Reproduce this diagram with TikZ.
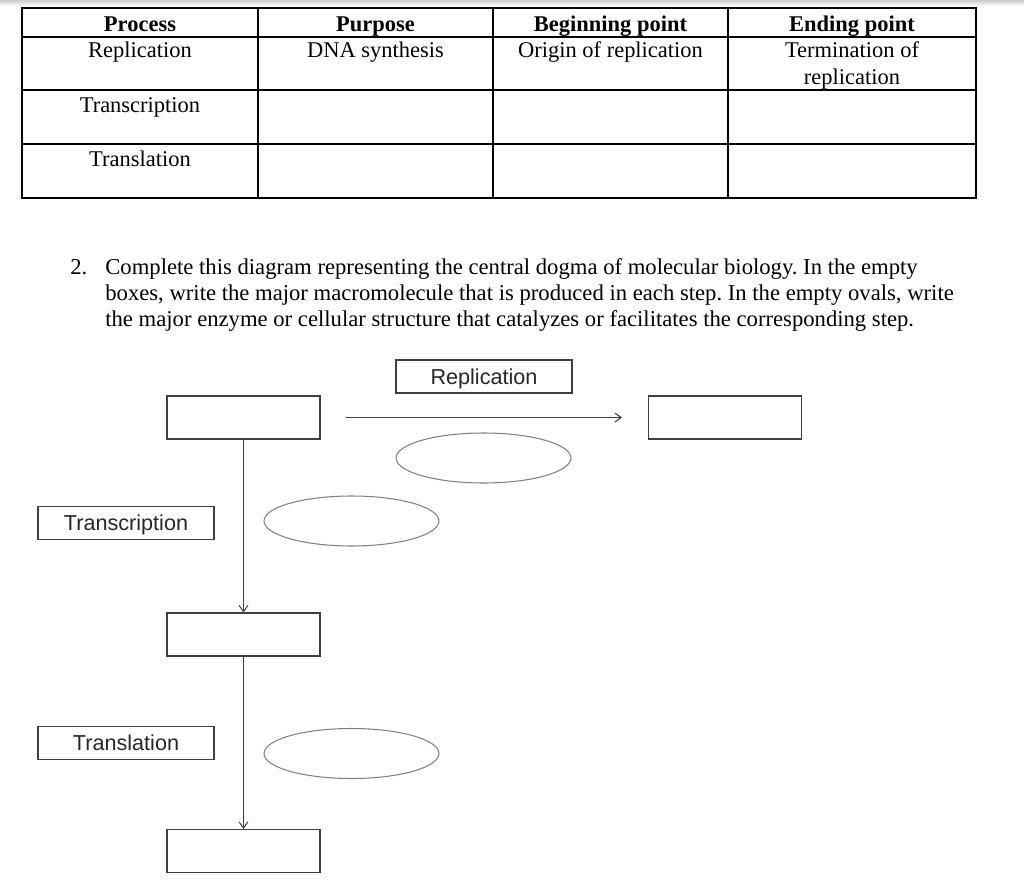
\documentclass[tikz,border=0pt]{standalone}
\usepackage{fontspec}
\setmainfont{Liberation Serif}
\setsansfont{Liberation Sans}
\usetikzlibrary{shapes.geometric,arrows.meta}
\frenchspacing

\begin{document}
\begin{tikzpicture}[x=0.02cm,y=-0.02cm]

\tikzset{
  cell/.style={anchor=base,inner sep=0pt,font=\fontsize{12.8}{14}\selectfont},
  head/.style={cell,font=\fontsize{12.8}{14}\selectfont\bfseries},
  para/.style={anchor=base west,inner sep=0pt,font=\fontsize{12.9}{14}\selectfont},
  steplabel/.style={draw=black!75,line width=0.6pt,minimum width=3.52cm,minimum height=0.66cm,inner sep=0pt,
    text height=8.8pt,text depth=0pt,font=\sffamily\fontsize{12.3}{14}\selectfont,text=black!85},
  blank/.style={draw=black!75,line width=0.6pt,minimum width=3.06cm,minimum height=0.86cm,inner sep=0pt},
  oval/.style={draw=black!50,line width=0.6pt,ellipse,minimum width=3.5cm,minimum height=1cm,inner sep=0pt},
  flow/.style={draw=black!75,line width=0.6pt,-{Straight Barb[length=3.5pt,width=5pt]}}
}

\useasboundingbox (0,0) rectangle (1024,888);
\shade[top color=black!20,bottom color=white] (0,0) rectangle (1024,6);

% table
\def\tl{22}\def\tr{976}
\draw[line width=1.1pt] (\tl,8) rectangle (\tr,198);
\foreach \xc in {258,493,728} \draw[line width=1.1pt] (\xc,8) -- (\xc,198);
\foreach \yr in {37,90,144} \draw[line width=1.1pt] (\tl,\yr) -- (\tr,\yr);

\node[head] (hproc) at (140,31.5) {Process};
\node[head] (hpurp) at (375.5,31.5) {Purpose};
\node[head] (hbeg) at (610.5,31.5) {Beginning point};
\node[head] (hend) at (852,31.5) {Ending point};
\node[cell] (rep) at (140,58) {Replication};
\node[cell] (syn) at (375.5,58) {DNA synthesis};
\node[cell] (ori) at (610.5,58) {Origin of replication};
\node[cell] (term) at (852,58) {Termination of};
\node[cell] (term2) at (852,84.5) {replication};
\node[cell] (trc) at (140,112.5) {Transcription};
\node[cell] (trl) at (140,166.5) {Translation};

% question
\node[para] (qnum) at (70,275) {2.};
\node[para] (q1) at (105,275) {Complete this diagram representing the central dogma of molecular biology. In the empty};
\node[para] (q2) at (105,301) {boxes, write the major macromolecule that is produced in each step. In the empty ovals, write};
\node[para] (q3) at (105,327) {the major enzyme or cellular structure that catalyzes or facilitates the corresponding step.};

% central dogma
\node[steplabel] (lrep) at (484,376.5) {Replication};
\node[blank] (dna) at (243.5,417.5) {};
\node[blank] (dnacopy) at (725,417.5) {};
\node[oval] (enzrep) at (483.5,458) {};
\node[oval] (enztrc) at (351.5,521) {};
\node[steplabel] (ltrc) at (126,523) {Transcription};
\node[blank] (rna) at (243.5,634.5) {};
\node[steplabel] (ltrl) at (126,743) {Translation};
\node[oval] (enztrl) at (351.5,753.5) {};
\node[blank] (prot) at (243.5,851) {};

\draw[flow] ([xshift=0.5cm]dna.east) -- ([xshift=-0.52cm]dnacopy.west);
\draw[flow] (dna.south) -- (rna.north);
\draw[flow] (rna.south) -- (prot.north);

\end{tikzpicture}
\end{document}
